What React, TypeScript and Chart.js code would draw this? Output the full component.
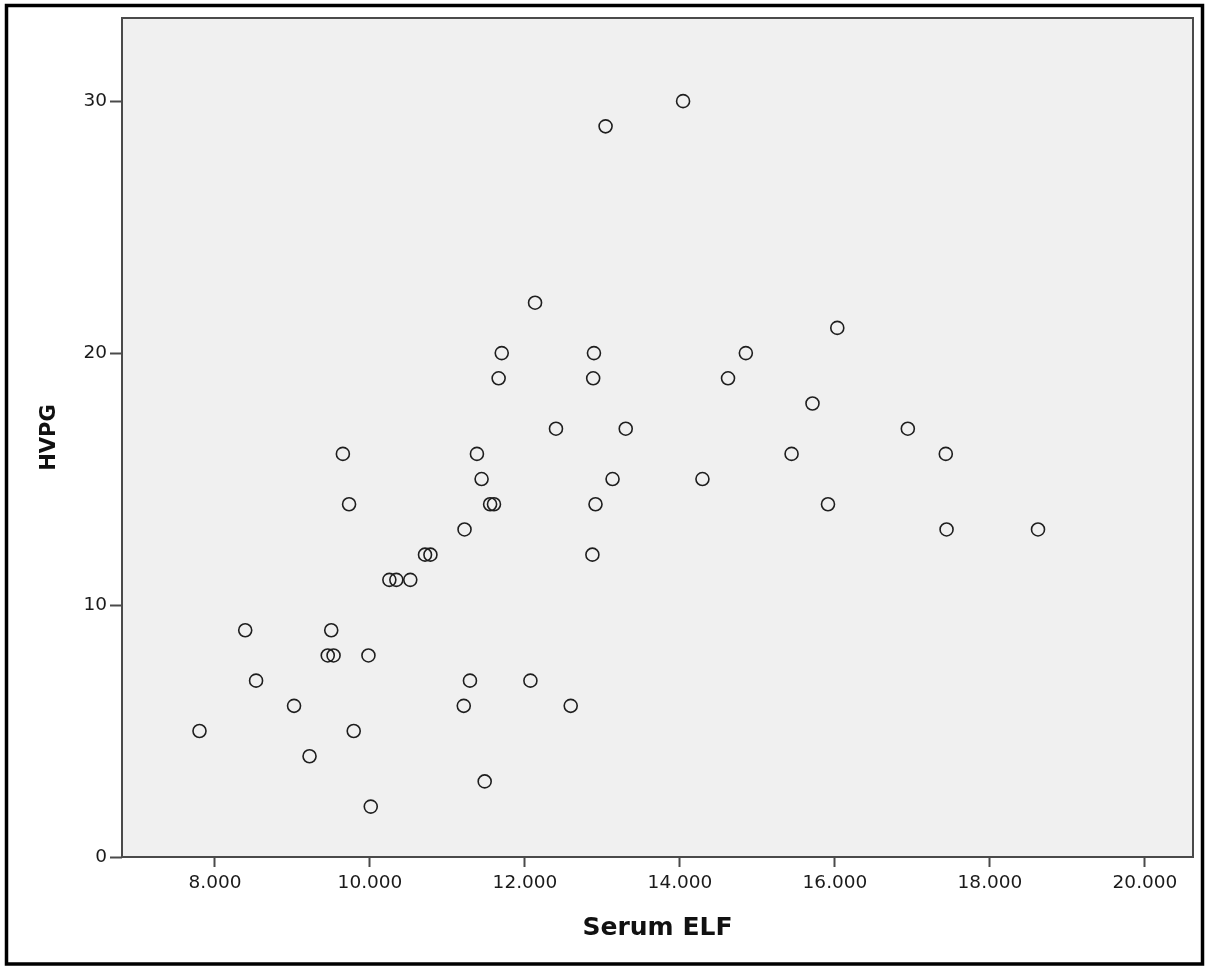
import React, { useEffect, useRef } from "react";
import { Chart, registerables } from "chart.js";

Chart.register(...registerables);

// Serum ELF score per patient
const elf: number[] = [
  7.8, 8.39, 8.53, 9.02, 9.22, 9.5, 9.455, 9.53, 9.65, 9.73, 9.79, 9.98, 10.01,
  10.25, 10.34, 10.52, 10.71, 10.78, 11.22, 11.21, 11.29, 11.38, 11.44, 11.48,
  11.55, 11.6, 11.66, 11.7, 12.07, 12.13, 12.4, 12.59, 12.88, 12.89, 12.91,
  12.87, 13.04, 13.13, 13.3, 14.04, 14.29, 14.62, 14.85, 15.44, 15.71, 15.91,
  16.03, 16.94, 17.43, 17.44, 18.62,
];

// Hepatic venous pressure gradient for the same patients
const hvpg: number[] = [
  5, 9, 7, 6, 4, 9, 8, 8, 16, 14, 5, 8, 2,
  11, 11, 11, 12, 12, 13, 6, 7, 16, 15, 3,
  14, 14, 19, 20, 7, 22, 17, 6, 19, 20, 14,
  12, 29, 15, 17, 30, 15, 19, 20, 16, 18, 14,
  21, 17, 16, 13, 13,
];

const xTicks: number[] = [8, 10, 12, 14, 16, 18, 20];
const yTicks: number[] = [0, 10, 20, 30];

const xTitle = "Serum ELF";
const yTitle = "HVPG";

const W = 1211;
const H = 967;

// Grey plot background, plot box outline and the outer frame
const framePlugin = {
  id: "frame",
  beforeDatasetsDraw(chart: any) {
    const { ctx, chartArea: a } = chart;
    ctx.save();
    ctx.strokeStyle = "#4a4a4a";
    ctx.lineWidth = 2;
    ctx.strokeRect(a.left, a.top, a.right - a.left, a.bottom - a.top);
    ctx.restore();
  },
  beforeDraw(chart: any) {
    const { ctx, chartArea: a } = chart;
    ctx.save();
    ctx.fillStyle = "#ffffff";
    ctx.fillRect(0, 0, chart.width, chart.height);
    ctx.fillStyle = "#f0f0f0";
    ctx.fillRect(a.left, a.top, a.right - a.left, a.bottom - a.top);
    ctx.restore();
  },
  afterDraw(chart: any) {
    const { ctx } = chart;
    ctx.save();
    ctx.strokeStyle = "#000000";
    ctx.lineWidth = 3.5;
    ctx.strokeRect(6.5, 5.5, 1196, 958.5);
    ctx.restore();
  },
};

export default function App() {
  const ref = useRef<HTMLCanvasElement | null>(null);

  useEffect(() => {
    if (!ref.current) return;
    const points = elf.map((x, i) => ({ x, y: hvpg[i] }));
    const tickFont = { family: "DejaVu Sans", size: 18.5 };
    const titleFont = { family: "DejaVu Sans", size: 21, weight: "bold" as const, lineHeight: 1.2 };

    const chart = new Chart(ref.current, {
      type: "scatter",
      data: {
        datasets: [
          {
            data: points,
            pointStyle: "circle",
            pointRadius: 6.5,
            pointBorderWidth: 1.6,
            borderColor: "#1e1e1e",
            backgroundColor: "rgba(0,0,0,0)",
          },
        ],
      },
      plugins: [framePlugin],
      options: {
        responsive: false,
        animation: false,
        devicePixelRatio: 1,
        events: [],
        layout: { padding: { left: 0, top: 18, right: 18, bottom: 0 } },
        plugins: {
          legend: { display: false },
          tooltip: { enabled: false },
        },
        scales: {
          x: {
            type: "linear",
            min: 6.8,
            max: 20.62,
            afterBuildTicks(scale: any) {
              scale.ticks = xTicks.map((v) => ({ value: v }));
            },
            afterFit(scale: any) {
              scale.height = 110;
            },
            grid: {
              drawOnChartArea: false,
              drawTicks: true,
              tickLength: 10,
              tickWidth: 2,
              tickColor: "#4a4a4a",
            },
            border: { display: false },
            ticks: {
              padding: 5,
              color: "#1a1a1a",
              font: tickFont,
              maxRotation: 0,
              callback: (v: any) => Number(v).toFixed(3),
            },
            title: {
              display: true,
              text: xTitle,
              color: "#111111",
              font: { ...titleFont, size: 25 },
              padding: { top: 0, bottom: 24 },
            },
          },
          y: {
            type: "linear",
            min: 0,
            max: 33.3,
            afterBuildTicks(scale: any) {
              scale.ticks = yTicks.map((v) => ({ value: v }));
            },
            afterFit(scale: any) {
              scale.width = 122;
            },
            grid: {
              drawOnChartArea: false,
              drawTicks: true,
              tickLength: 12,
              tickWidth: 2,
              tickColor: "#4a4a4a",
            },
            border: { display: false },
            ticks: {
              padding: 3,
              color: "#1a1a1a",
              font: tickFont,
              callback: (v: any) => String(v),
            },
            title: {
              display: true,
              text: yTitle,
              color: "#111111",
              font: titleFont,
              padding: { top: 37.4, bottom: 0 },
            },
          },
        },
      },
    });

    return () => chart.destroy();
  }, []);

  return (
    <div style={{ position: "absolute", left: 0, top: 0, width: W, height: H }}>
      <canvas ref={ref} width={W} height={H} style={{ display: "block", width: W, height: H }} />
    </div>
  );
}
